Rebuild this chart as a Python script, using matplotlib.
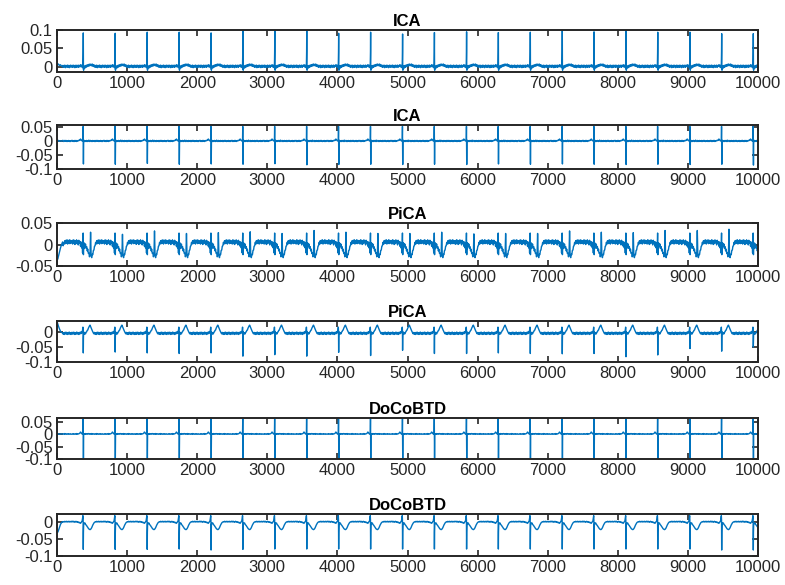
import numpy as np
import matplotlib
matplotlib.use('Agg')
import matplotlib.pyplot as plt

plt.rcParams['font.family'] = ['Liberation Sans', 'DejaVu Sans']

# beat (spike) sample positions
beats = [375, 830, 1287, 1743, 2198, 2652, 3107, 3563, 4018, 4474, 4930,
         5384, 5843, 6296, 6752, 7208, 7661, 8117, 8570, 9030, 9482, 9933]

# sample offsets of one beat cycle, relative to the spike
offs = [-160, -152, -144, -136, -128, -120, -112, -104, -96, -88, -80, -72, -64, -56,
        -48, -40, -32, -24, -16,
        -10, -5, -2, 0, 2, 5, 10,
        16, 24, 32, 40, 48, 56, 64, 72, 80, 88, 96, 104, 112, 120, 128, 136, 144,
        152, 160, 168, 176, 184, 192, 200, 208, 216, 224, 232, 240, 248, 256, 264,
        272, 280, 288, 296]

# start of record (samples)
head_x = [0, 10, 20, 35, 50, 65, 80]

# values in units of 1e-3
ica1_beat = [3, -2, 4, -1, 3, -3, 2, 4, -2, 3, -1, 4, -2, 3, 1, 5, -1, 4, 1,
             -3, 4, 40, 93, -8, -10, 2,
             -1, -4, 3, -2, 4, 0, 5, 1, 6, 2, 7, 3, 6, 2, 7, 1, 5, 0, 4, -2, 3, -1,
             4, -3, 2, 3, -2, 4, -1, 3, -3, 2, 4, -2, 3, -1]
ica1_peaks = [92, 91, 94, 94, 92, 99, 99, 99, 91, 94, 89, 93, 95, 93, 94, 99,
              95, 99, 94, 94, 90, 90]
ica1_head = [8, 5, 7, 3, 5, 1, 3]

ica2_beat = [0, 2, -2, 1, -2, 2, -1, 2, -2, 1, 0, 2, 1, 3, 2, 7, 5, 2, 0,
             1, 3, 52, 0, -83, -6, 2,
             2, -2, 1, -2, 2, 0, -2, 1, 3, -2, 0, 2, -2, 1, -2, 2, -1, 1, -2, 2,
             -2, 0, 2, -1, 2, -1, -2, 1, -1, 2, -2, 1, -2, 0, 2, -1]
ica2_peaks = [-82, -83, -80, -83, -82, -83, -81, -85, -84, -83, -84, -83, -84,
              -82, -83, -82, -83, -84, -83, -84, -83, -86]
ica2_head = [1, -1, 2, -1, 1, -1, 2]

pica1_beat = [8, 1, 11, 3, 10, 0, 9, 2, 11, 4, 8, -1, 10, 3, 7, -4, 6, -8, 3,
              -20, 12, 27, 8, -24, 4, -10,
              3, -5, 1, -9, -5, -15, -11, -21, -20, -29, -25, -33, -27, -31, -23,
              -24, -14, -13, -4, -3, 5, 1, 9, 2, 10, 3, 11, 1, 9, 4, 11, 2, 10, 3, 9, 1]
pica1_peaks = [29, 24, 32, 26, 28, 30, 26, 33, 29, 26, 26, 29, 25, 26, 26, 32,
               29, 28, 33, 33, 36, 30]
pica1_head = [-33, -35, -28, -18, -8, 0, 6]

pica2_beat = [-1, -6, 1, -5, 0, -7, -1, -5, 1, -6, 0, -4, -7, 0, -5, 1, -4, 3, -1,
              8, 18, 5, -72, -20, 2, -5,
              -6, -1, -5, 1, 2, 7, 8, 14, 18, 22, 25, 20, 16, 10, 6, 2, -2, -5, 0,
              -6, -1, -7, 0, -5, 1, -6, -1, -7, 0, -5, 1, -6, -1, -7, 0, -5]
pica2_peaks = [-70, -67, -70, -72, -70, -81, -76, -81, -68, -79, -61, -72, -72,
               -70, -72, -73, -72, -83, -77, -55, -64, -50]
pica2_head = [38, 30, 22, 12, 4, 0, -2]

dcb1_beat = [0, 1, -1, 1, 0, -1, 1, 0, 2, -1, 1, 0, 1, 2, 4, 8, 6, 2, 0,
             -1, 2, 61, 0, -100, -4, 1,
             1, -1, 2, 0, 1, -1, 1, 2, 0, 1, -1, 1, 0, 2, -1, 1, 0, 1, -1, 0,
             1, -1, 2, 0, 1, -1, 0, 1, -1, 1, 0, -1, 1, 0, -1, 1]
dcb1_peaks = [-98, -99, -97, -98, -99, -100, -98, -100, -99, -100, -97, -98,
              -100, -99, -98, -99, -100, -99, -98, -100, -99, -97]
dcb1_head = [1, 0, 1, -1, 0, 1, 0]

dcb2_beat = [2, 3, 1, 3, 2, 0, 2, 3, 1, 2, 0, 1, -1, 0, -2, -3, -1, 2, 4,
             12, 20, 6, -80, -30, -6, -2,
             -4, -2, -6, -8, -10, -13, -15, -18, -20, -21, -22, -21, -19, -16,
             -12, -8, -5, -2, 0, 1, 2, 1, 3, 2, 1, 3, 2, 1, 3, 2, 1, 3, 2, 1, 3, 2]
dcb2_peaks = [-81, -81, -81, -80, -83, -81, -80, -80, -80, -80, -80, -80, -80,
              -80, -80, -80, -80, -80, -80, -80, -83, -83]
dcb2_head = [-28, -30, -25, -15, -6, -1, 2]

titles = ['ICA', 'ICA', 'PiCA', 'PiCA', 'DoCoBTD', 'DoCoBTD']
ylims = [(-0.014, 0.1), (-0.1, 0.057), (-0.05, 0.05), (-0.1, 0.04),
         (-0.1, 0.063), (-0.1, 0.024)]
yticks = [[0, 0.05, 0.1], [-0.1, -0.05, 0, 0.05], [-0.05, 0, 0.05],
          [-0.1, -0.05, 0], [-0.1, -0.05, 0, 0.05], [-0.1, -0.05, 0]]
# axes top/bottom in pixels
ax_px = [(30, 71.7), (125, 169), (223.3, 265.7), (320.7, 361.7),
         (418.3, 459), (514.3, 555.7)]


def build(vals, peaks, head):
    off = np.array(offs)
    vals = np.array(vals) * 1e-3
    pk = np.argmax(np.abs(vals))
    xs = list(head_x)
    ys = list(np.array(head) * 1e-3)
    pos = [beats[0] - (beats[1] - beats[0])] + beats
    for i, p in enumerate(pos):
        v = vals.copy()
        if i > 0:
            v[pk] = peaks[i - 1] * 1e-3
        x = p + off
        keep = x > xs[-1]
        if i + 1 < len(pos):
            keep &= x < pos[i + 1] + off[0]
        if i == 0:
            keep &= off > 10
        xs += list(x[keep])
        ys += list(v[keep])
    return np.array(xs), np.array(ys)


series = [build(ica1_beat, ica1_peaks, ica1_head),
          build(ica2_beat, ica2_peaks, ica2_head),
          build(pica1_beat, pica1_peaks, pica1_head),
          build(pica2_beat, pica2_peaks, pica2_head),
          build(dcb1_beat, dcb1_peaks, dcb1_head),
          build(dcb2_beat, dcb2_peaks, dcb2_head)]

W, H = 785, 585
fig = plt.figure(figsize=(W / 100, H / 100), dpi=100)
for k in range(6):
    top, bot = ax_px[k]
    ax = fig.add_axes([57 / W, 1 - bot / H, (758 - 57) / W, (bot - top) / H])
    x, y = series[k]
    ax.plot(x, y, color='#0072BD', lw=1.0)
    ax.set_xlim(0, 10000)
    ax.set_ylim(*ylims[k])
    ax.set_xticks(range(0, 10001, 1000))
    ax.set_yticks(yticks[k])
    ax.set_yticklabels(['%g' % t for t in yticks[k]])
    ax.tick_params(direction='in', top=True, right=True, length=4, width=1.2,
                   labelsize=12, colors='#262626', labelcolor='#262626', pad=3)
    for s in ax.spines.values():
        s.set_linewidth(1.4)
        s.set_color('#262626')
    ax.set_title(titles[k], fontsize=12, fontweight='bold', pad=3)

plt.savefig('out.png', dpi=100)
